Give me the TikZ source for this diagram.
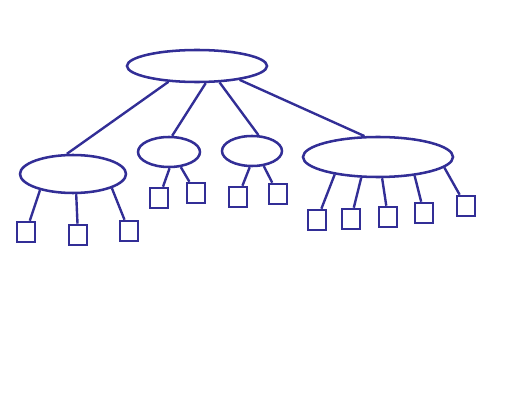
\documentclass[tikz,border=0pt]{standalone}
\usetikzlibrary{shapes.geometric}
\definecolor{inkc}{RGB}{50,46,150}
\tikzset{
  grp/.style={ellipse,draw=inkc,line width=1.8pt,inner sep=0pt},
  leaf/.style={rectangle,draw=inkc,line width=1.8pt,minimum width=4.6mm,minimum height=5mm,inner sep=0pt},
  twig/.style={line width=1.7pt,inkc},
}
\begin{document}
\begin{tikzpicture}[x=0.25mm,y=-0.25mm]
  \useasboundingbox (0,0) rectangle (512,413);
  % root and its four groups
  \node[grp,minimum width=35mm,minimum height=8mm](R) at (197,66){};
  \node[grp,minimum width=26.5mm,minimum height=9.5mm](G1) at (73,174){};
  \node[grp,minimum width=15.5mm,minimum height=7.5mm](G2) at (169,152){};
  \node[grp,minimum width=15mm,minimum height=7.5mm](G3) at (252,151){};
  \node[grp,minimum width=37.5mm,minimum height=10mm](G4) at (378,157){};
  \foreach \g/\a/\b in {G1/-151/107, G2/-63/79, G3/-36/68, G4/-18/123}{
    \draw[twig](R.\a)--(\g.\b);}
  % leaves
  \foreach \nm/\g/\x/\y/\a in {a1/G1/26/232/-154, a2/G1/78/235/-81, a3/G1/129/231/-20,
      b1/G2/159/198/-88, b2/G2/196/193/-52, c1/G3/238/197/-98, c2/G3/278/194/-52,
      d1/G4/317/220/-158, d2/G4/351/219/-129, d3/G4/388/217/-79, d4/G4/424/213/-27, d5/G4/466/206/-9}{
    \node[leaf](\nm) at (\x,\y){};
    \draw[twig](\g.\a)--(\nm);}
\end{tikzpicture}
\end{document}
